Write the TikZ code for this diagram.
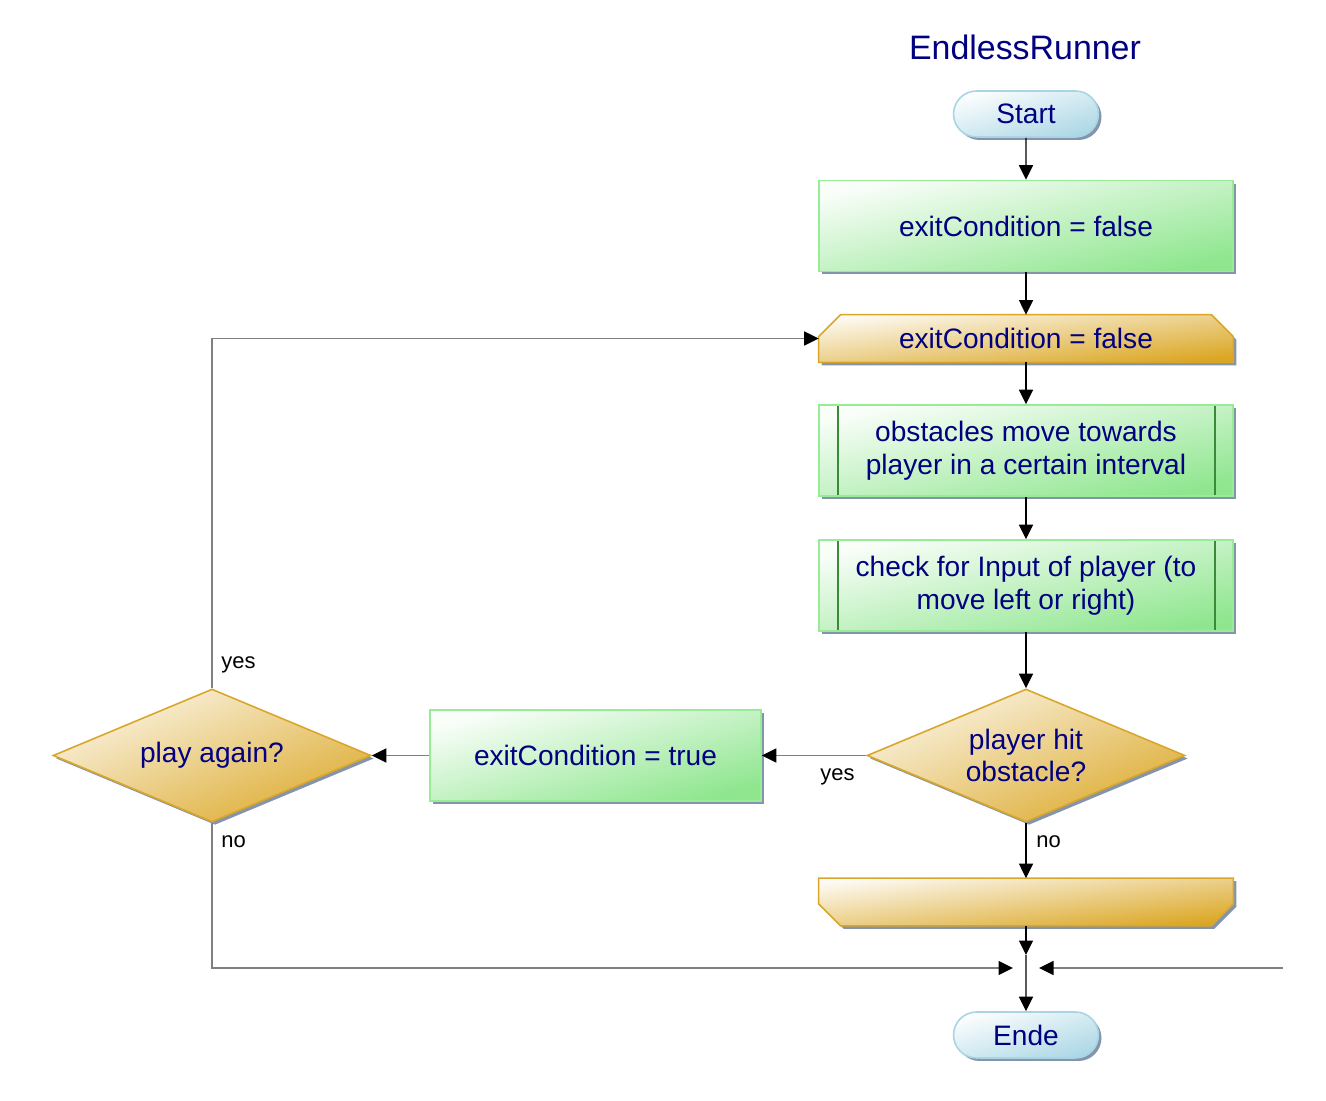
\documentclass[tikz,border=0pt]{standalone}
\usepackage{fontspec}
\setmainfont{Liberation Sans}
\usetikzlibrary{shapes.geometric,shapes.misc,shadows,arrows.meta,backgrounds}
\definecolor{navytext}{HTML}{000080}
\definecolor{boxgreen}{HTML}{8FE68F}
\definecolor{edgegreen}{HTML}{98EC98}
\definecolor{subgreen}{HTML}{3A8A3A}
\definecolor{goldfill}{HTML}{DAA520}
\definecolor{goldedge}{HTML}{D9A62A}
\definecolor{bluefill}{HTML}{ADD8E6}
\definecolor{blueedge}{HTML}{A8D4E4}
\definecolor{shadowgray}{HTML}{8494AA}
\definecolor{linegray}{HTML}{808080}
\tikzset{
  base/.style={font=\fontsize{16}{18.7}\selectfont, text=navytext, align=center, inner sep=2pt},
  shadowed/.style={line width=0.9pt,
    drop shadow={shadow xshift=0.06cm, shadow yshift=-0.06cm, fill=shadowgray, opacity=1}},
  terminal/.style={base, shadowed, rounded rectangle, draw=blueedge, top color=white!95!bluefill,
    bottom color=bluefill, shading angle=17, minimum width=3.04cm, minimum height=0.92cm},
  action/.style={base, shadowed, rectangle, draw=edgegreen, top color=white!95!boxgreen,
    bottom color=boxgreen, shading angle=12.5, minimum width=8.28cm, minimum height=1.82cm},
  subproc/.style={action, path picture={
    \draw[subgreen, line width=1.1pt]
      ([xshift=0.38cm]path picture bounding box.north west) -- ([xshift=0.38cm]path picture bounding box.south west)
      ([xshift=-0.36cm]path picture bounding box.north east) -- ([xshift=-0.36cm]path picture bounding box.south east);}},
  looptext/.style={base, rectangle, minimum width=8.28cm, minimum height=0.94cm},
  loopshape/.style={shadowed, draw=goldedge, top color=white!95!goldfill, bottom color=goldfill,
    shading angle=6.5},
  decision/.style={base, shadowed, diamond, aspect=2.38, inner sep=0pt, draw=goldedge,
    top color=white!88!goldfill, bottom color=goldfill!92, shading angle=22.8,
    minimum width=6.36cm, minimum height=2.66cm},
  flowline/.style={draw=black, line width=0.7pt, -{Triangle[length=0.29cm,width=0.28cm]}},
  loopline/.style={draw=linegray, line width=0.9pt, -{Triangle[length=0.29cm,width=0.28cm,color=black]}},
  answer/.style={font=\fontsize{12.5}{14}\selectfont, text=black, anchor=west, inner sep=0pt}
}
\begin{document}
\begin{tikzpicture}[x=0.02cm,y=-0.02cm]
  \useasboundingbox (0,0) rectangle (1326,1101);
  \node[font=\fontsize{19.3}{22}\selectfont, text=navytext] (title) at (1025,47) {EndlessRunner};

  \node[terminal] (start) at (1026,114) {Start};
  \node[action] (init) at (1026,226) {exitCondition = false};
  \node[looptext] (head) at (1026,338.5) {exitCondition = false};
  \node[subproc] (move) at (1026,450.5) {obstacles move towards\\player in a certain interval};
  \node[subproc] (input) at (1026,585.5) {check for Input of player (to\\move left or right)};
  \node[decision] (hit) at (1026,755.5) {player hit\\obstacle?};
  \node[action, minimum width=6.62cm, shading angle=15.4] (setexit) at (595.5,755.5) {exitCondition = true};
  \node[decision] (again) at (212,755.5) {play again?};
  \node[looptext] (tail) at (1026,902) {};
  \node[terminal] (stop) at (1026,1035) {Ende};

  % loop begin and loop end
  \begin{scope}[on background layer]
    \path[loopshape] (head.south west) -- ([yshift=-0.44cm]head.north west) -- ([xshift=0.44cm]head.north west)
      -- ([xshift=-0.44cm]head.north east) -- ([yshift=-0.44cm]head.north east) -- (head.south east) -- cycle;
    \path[loopshape] (tail.north west) -- (tail.north east) -- ([yshift=0.44cm]tail.south east)
      -- ([xshift=-0.44cm]tail.south east) -- ([xshift=0.44cm]tail.south west) -- ([yshift=0.44cm]tail.south west) -- cycle;
  \end{scope}

  \coordinate (join) at (1026,968);
  \coordinate (rightend) at (1283,968);

  \draw[flowline] (start) -- (init);
  \draw[flowline] (init) -- (head);
  \draw[flowline] (head) -- (move);
  \draw[flowline] (move) -- (input);
  \draw[flowline] (input) -- (hit);
  \draw[flowline] (hit) -- (tail);
  \draw[flowline, shorten >=0.26cm] (tail) -- (join);
  \draw[flowline] ([yshift=0.26cm]join) -- (stop);

  \draw[loopline] (hit) -- (setexit);
  \draw[loopline] (setexit) -- (again);
  \draw[loopline] (again.north) |- (head.west);
  \draw[loopline, shorten >=0.26cm] (again.south) |- (join);
  \draw[loopline, shorten >=0.26cm] (rightend) -- (join);

  \node[answer] (yesback) at (221,665) {yes};
  \node[answer] (noback) at (221,842) {no};
  \node[answer] (yeshit) at (820,777) {yes};
  \node[answer] (nohit) at (1036,842) {no};
\end{tikzpicture}
\end{document}
